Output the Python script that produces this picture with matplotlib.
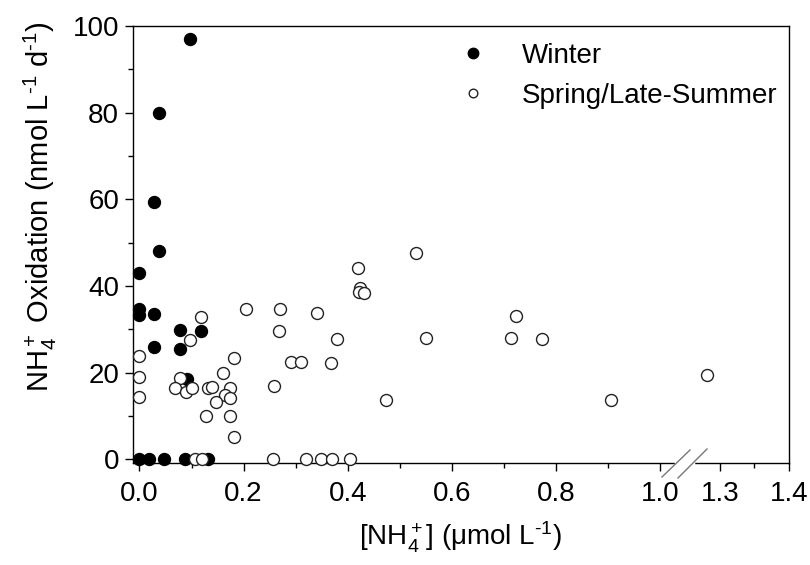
import numpy as np
import matplotlib
matplotlib.use("Agg")
import matplotlib.pyplot as plt
from matplotlib.ticker import FixedLocator, FixedFormatter

plt.rcParams['font.family'] = ['Liberation Sans', 'DejaVu Sans']
plt.rcParams['mathtext.fontset'] = 'custom'
plt.rcParams['mathtext.rm'] = 'Liberation Sans'
plt.rcParams['mathtext.it'] = 'Liberation Sans:italic'
plt.rcParams['mathtext.bf'] = 'Liberation Sans:bold'

# ---- data ----
winter_x = [0.097, 0.038, 0.028, 0.038, 0.0, 0.0, 0.0, 0.028, 0.078, 0.118,
            0.028, 0.078, 0.091, 0.0, 0.019, 0.048, 0.088, 0.131]
winter_y = [97.0, 80.0, 59.3, 48.1, 42.9, 34.8, 33.2, 33.5, 29.8, 29.6,
            26.0, 25.4, 18.6, 0, 0, 0, 0, 0]

spring_x = [0.118, 0.097, 0.0, 0.181, 0.160, 0.0, 0.077, 0.068, 0.090, 0.101,
            0.131, 0.139, 0.173, 0.165, 0.173, 0.147, 0.0, 0.128, 0.174, 0.181,
            0.107, 0.120, 0.257, 0.320, 0.349, 0.370, 0.405,
            0.205, 0.269, 0.340, 0.267, 0.290, 0.310, 0.368, 0.259, 0.531,
            0.420, 0.424, 0.421, 0.431, 0.722, 0.379, 0.551, 0.714, 0.772,
            0.474, 0.905, 1.281]
spring_y = [32.9, 27.5, 23.9, 23.3, 20.0, 19.1, 18.8, 16.5, 15.6, 16.4,
            16.5, 16.7, 16.5, 14.8, 14.2, 13.3, 14.4, 10.1, 10.1, 5.2,
            0, 0, 0, 0, 0, 0, 0,
            34.6, 34.6, 33.7, 29.7, 22.5, 22.5, 22.2, 16.9, 47.7,
            44.2, 39.5, 38.7, 38.3, 33.1, 27.8, 28.1, 27.9, 27.8,
            13.8, 13.8, 19.5]

x_major = [0.0, 0.2, 0.4, 0.6, 0.8, 1.0, 1.3, 1.4]
x_major_labels = ['0.0', '0.2', '0.4', '0.6', '0.8', '1.0', '1.3', '1.4']
x_minor = [0.1, 0.3, 0.5, 0.7, 0.9, 1.35]
y_major = [0, 20, 40, 60, 80, 100]
y_minor = [10, 30, 50, 70, 90]

# ---- broken-axis scale ----
B1, B2, K, G = 1.0467, 1.2493, 69.0 / 52.0, 1e-4

def fwd(x):
    x = np.asarray(x, dtype=float)
    return np.where(x <= B1, x,
                    np.where(x >= B2, B1 + G + (x - B2) * K,
                             B1 + (x - B1) / (B2 - B1) * G))

def inv(u):
    u = np.asarray(u, dtype=float)
    return np.where(u <= B1, u,
                    np.where(u >= B1 + G, B2 + (u - B1 - G) / K,
                             B1 + (u - B1) / G * (B2 - B1)))

fig = plt.figure(figsize=(8.1, 5.65), dpi=100)
ax = fig.add_axes([133/810, 1 - 463/565, 656/810, 437/565])
ax.set_xscale('function', functions=(fwd, inv))

ax.plot(winter_x, winter_y, 'o', ms=8.6, mfc='black', mec='black', mew=1,
        ls='none', label='Winter', zorder=3, clip_on=False)
ax.plot(spring_x, spring_y, 'o', ms=8.6, mfc='white', mec='#222222', mew=1,
        ls='none', label='Spring/Late-Summer', zorder=4, clip_on=False)

ax.set_xlim(-0.0123, 1.4)
ax.set_ylim(-0.85, 100)

ax.xaxis.set_major_locator(FixedLocator(x_major))
ax.xaxis.set_major_formatter(FixedFormatter(x_major_labels))
ax.xaxis.set_minor_locator(FixedLocator(x_minor))
ax.yaxis.set_major_locator(FixedLocator(y_major))
ax.yaxis.set_minor_locator(FixedLocator(y_minor))

ax.tick_params(which='major', direction='out', length=6, width=1, labelsize=20)
ax.tick_params(which='minor', direction='out', length=3.5, width=1)
ax.tick_params(axis='x', which='major', pad=7)
ax.tick_params(axis='y', which='major', pad=4)
for s in ax.spines.values():
    s.set_linewidth(1)

ax.set_xlabel('[NH$_4^+$] (\u03bcmol L$^{\\text{-1}}$)', fontsize=20, va='center')
ax.xaxis.set_label_coords(0.5, (463 - 537) / 437)
ax.set_ylabel('NH$_4^+$ Oxidation (nmol L$^{\\text{-1}}$ d$^{\\text{-1}}$)',
              fontsize=21, va='center')
ax.yaxis.set_label_coords((40 - 133) / 656, (463 - 207) / 437)

# axis break marks
def px(xp):
    return (xp - 133) / 656
def py(yp):
    return (463 - yp) / 437
ax.plot([px(676), px(693)], [0, 0], color='white', lw=2.5, transform=ax.transAxes,
        clip_on=False, zorder=5)
ax.plot([px(662), px(690)], [py(477), py(450)], color='#777777', lw=1,
        transform=ax.transAxes, clip_on=False, zorder=6)
ax.plot([px(678), px(707)], [py(478), py(449)], color='#777777', lw=1,
        transform=ax.transAxes, clip_on=False, zorder=6)

leg = ax.legend(loc='upper left', bbox_to_anchor=(px(452), py(43)), frameon=False,
                fontsize=20, markerscale=0.75, handlelength=1.5, handletextpad=1.0,
                labelspacing=0.5, borderpad=0, borderaxespad=0, numpoints=1)
hs = leg.legend_handles
hs[0].set_markersize(7.5)
hs[1].set_markersize(6.2)

fig.savefig('out.png', dpi=100)
